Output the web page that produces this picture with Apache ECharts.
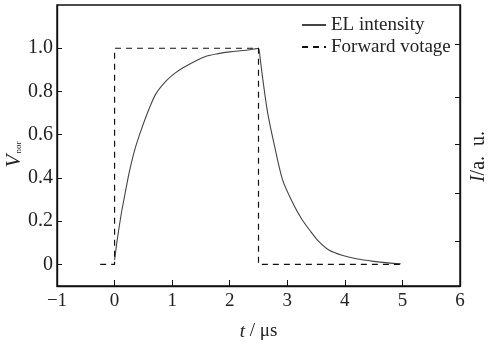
<!DOCTYPE html>
<html>
<head>
<meta charset="utf-8">
<script src="https://cdn.jsdelivr.net/npm/echarts@6/dist/echarts.min.js"></script>
<style>
  html, body {margin: 0; padding: 0; background: #fff;}
  #chart {width: 492px; height: 346px;}
</style>
</head>
<body>
<div id="chart"></div>
<script>
// time axis (µs) and values
const elTime = [0, 0.05, 0.12, 0.17, 0.25, 0.35, 0.46, 0.6, 0.72, 0.9, 1.05, 1.19, 1.4, 1.59, 1.8, 2.0, 2.29, 2.46, 2.5,
  2.53, 2.575, 2.66, 2.78, 2.92, 3.1, 3.25, 3.39, 3.55, 3.73, 3.95, 4.2, 4.5, 4.75, 4.97];
const elIntensity = [0.02, 0.12, 0.24, 0.31, 0.42, 0.53, 0.62, 0.72, 0.79, 0.85, 0.885, 0.91, 0.94, 0.963, 0.975, 0.983, 0.991, 0.998, 1.0,
  0.95, 0.856, 0.70, 0.546, 0.39, 0.282, 0.21, 0.158, 0.105, 0.065, 0.042, 0.026, 0.014, 0.007, 0.003];
const voltTime = [-0.25, 0, 0, 2.5, 2.5, 5];
const voltValue = [0, 0, 1, 1, 0, 0];

const yTicks = [0, 0.2, 0.4, 0.6, 0.8, 1.0];
const rightTicks = [0.108, 0.329, 0.557, 0.771, 1.019];

const serif = '"Liberation Serif", "DejaVu Serif", serif';

const chart = echarts.init(document.getElementById('chart'));

chart.setOption({
  animation: false,
  grid: {
    left: 57, right: 32, top: 5, bottom: 60,
    containLabel: false, outerBoundsMode: 'none',
    show: true, borderColor: '#111', borderWidth: 1.4
  },
  legend: {
    left: 296,
    top: 10,
    orient: 'vertical',
    itemWidth: 24,
    itemHeight: 10,
    itemGap: 2,
    itemStyle: {opacity: 0},
    textStyle: {fontFamily: serif, fontSize: 19, color: '#222', lineHeight: 20},
    data: ['EL intensity', 'Forward votage']
  },
  xAxis: {
    type: 'value',
    min: -1,
    max: 6,
    interval: 1,
    splitLine: {show: false},
    axisLine: {onZero: false, lineStyle: {color: '#111', width: 1.4}},
    axisTick: {inside: true, length: 6, lineStyle: {color: '#111'}},
    axisLabel: {
      fontFamily: serif, fontSize: 19, color: '#222', margin: 6,
      formatter: v => (v < 0 ? '\u2212' + Math.abs(v) : String(v))
    },
    name: '{i|t} / \u03bcs',
    nameLocation: 'middle',
    nameGap: 36,
    nameTextStyle: {
      fontFamily: serif, fontSize: 19, color: '#222',
      rich: {i: {fontFamily: serif, fontSize: 19, fontStyle: 'italic', color: '#222'}}
    }
  },
  yAxis: [
    {
      type: 'value',
      min: -0.1,
      max: 1.2,
      splitLine: {show: false},
      axisLine: {show: true, onZero: false, lineStyle: {color: '#111', width: 1.4}},
      axisTick: {show: true, inside: true, length: 5, customValues: yTicks, lineStyle: {color: '#111'}},
      axisLabel: {
        customValues: yTicks,
        fontFamily: serif, fontSize: 20, color: '#222', margin: 4,
        formatter: v => (v === 0 ? '0' : v.toFixed(1))
      },
      name: '{v|V}{s|nor}',
      nameLocation: 'middle',
      nameRotate: 90,
      nameGap: 32,
      nameMoveOverlap: false,
      nameTextStyle: {
        padding: [0, 18, 0, 0],
        rich: {
          v: {fontFamily: serif, fontSize: 21, fontStyle: 'italic', color: '#222'},
          s: {fontFamily: serif, fontSize: 9, color: '#222', padding: [9, 0, 0, 1]}
        }
      }
    },
    {
      type: 'value',
      position: 'right',
      min: -0.1,
      max: 1.2,
      splitLine: {show: false},
      axisLine: {show: true, onZero: false, lineStyle: {color: '#111', width: 1.4}},
      axisTick: {show: true, inside: true, length: 5, customValues: rightTicks, lineStyle: {color: '#111'}},
      axisLabel: {show: false},
      name: '{i|I}/a.  u.',
      nameLocation: 'middle',
      nameRotate: 90,
      nameGap: 9,
      nameMoveOverlap: false,
      nameTextStyle: {
        fontFamily: serif, fontSize: 20, color: '#222',
        padding: [0, 22, 0, 0],
        rich: {i: {fontFamily: serif, fontSize: 20, fontStyle: 'italic', color: '#222'}}
      }
    }
  ],
  series: [
    {
      name: 'EL intensity',
      type: 'line',
      smooth: 0.3,
      symbol: 'none',
      data: elTime.map((t, i) => [t, elIntensity[i]]),
      lineStyle: {color: '#444', width: 1.1},
      itemStyle: {color: '#444'}
    },
    {
      name: 'Forward votage',
      type: 'line',
      symbol: 'none',
      data: voltTime.map((t, i) => [t, voltValue[i]]),
      lineStyle: {color: '#111', width: 1.2, type: [6, 5]},
      itemStyle: {color: '#111'}
    }
  ]
});
</script>
</body>
</html>
